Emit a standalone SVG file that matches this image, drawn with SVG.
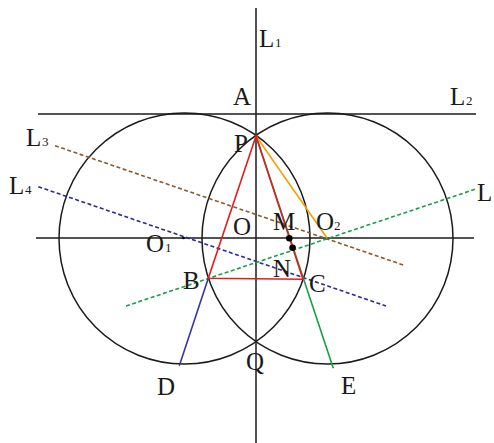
<svg xmlns="http://www.w3.org/2000/svg" width="494" height="443" viewBox="0 0 494 443">
<style>
.k{stroke:#1a1a1a;stroke-width:1.5;fill:none}
.d{stroke-width:1.6;stroke-dasharray:4 2.5;fill:none}
.s{stroke-width:1.6;fill:none}
text{font-family:"Liberation Serif","Times New Roman",serif;fill:#1a1a1a}
.t{font-size:25px}
.u{font-size:13px}
</style>
<rect width="494" height="443" fill="#fff"/>
<g id="circles">
<circle class="k" cx="184.5" cy="238.5" r="125.5"/>
<circle class="k" cx="327.5" cy="238.5" r="125.5"/>
</g>
<g id="axes">
<line class="k" x1="256" y1="8" x2="256" y2="443"/>
<line class="k" x1="38" y1="114" x2="476" y2="114"/>
<line class="k" x1="36" y1="238" x2="474" y2="238"/>
</g>
<g id="connectors">
<line class="d" stroke="#8b5a2b" x1="55" y1="145.7" x2="403.3" y2="265"/>
<line class="d" stroke="#2a2a9a" x1="38.3" y1="186.7" x2="386" y2="306"/>
<line class="d" stroke="#16a04a" x1="126" y1="306" x2="475" y2="189.3"/>
<line class="s" stroke="#16a04a" x1="256" y1="136" x2="333.3" y2="368.3"/>
<line class="s" stroke="#3535a0" x1="208.3" y1="278.3" x2="179.3" y2="365.7"/>
<line class="s" stroke="#f5a000" x1="256" y1="136" x2="327" y2="238"/>
<polygon class="s" stroke="#e21c1c" points="256,136 208.3,278.3 303,279.3"/>
</g>
<g id="points">
<circle cx="289.3" cy="238.3" r="3.3" fill="#000"/>
<circle cx="292.6" cy="247.7" r="3.3" fill="#000"/>
<circle cx="183.5" cy="238" r="1.3" fill="#000"/>
</g>
<g id="labels">
<text class="t" x="259" y="47">L</text><text class="u" x="275" y="47">1</text>
<text class="t" x="233" y="105">A</text>
<text class="t" x="450" y="105">L</text><text class="u" x="466" y="105">2</text>
<text class="t" x="26" y="146">L</text><text class="u" x="42" y="146">3</text>
<text class="t" x="9" y="194">L</text><text class="u" x="25" y="194">4</text>
<text class="t" x="477" y="201">L</text>
<text class="t" x="234" y="152">P</text>
<text class="t" x="233" y="235">O</text>
<text class="t" x="273" y="230">M</text>
<text class="t" x="316" y="230">O</text><text class="u" x="334" y="230">2</text>
<text class="t" x="146" y="252">O</text><text class="u" x="165" y="252">1</text>
<text class="t" x="273" y="277">N</text>
<text class="t" x="183" y="289">B</text>
<text class="t" x="309" y="292">C</text>
<text class="t" x="246" y="370">Q</text>
<text class="t" x="157" y="395">D</text>
<text class="t" x="341" y="394">E</text>
</g>
</svg>
